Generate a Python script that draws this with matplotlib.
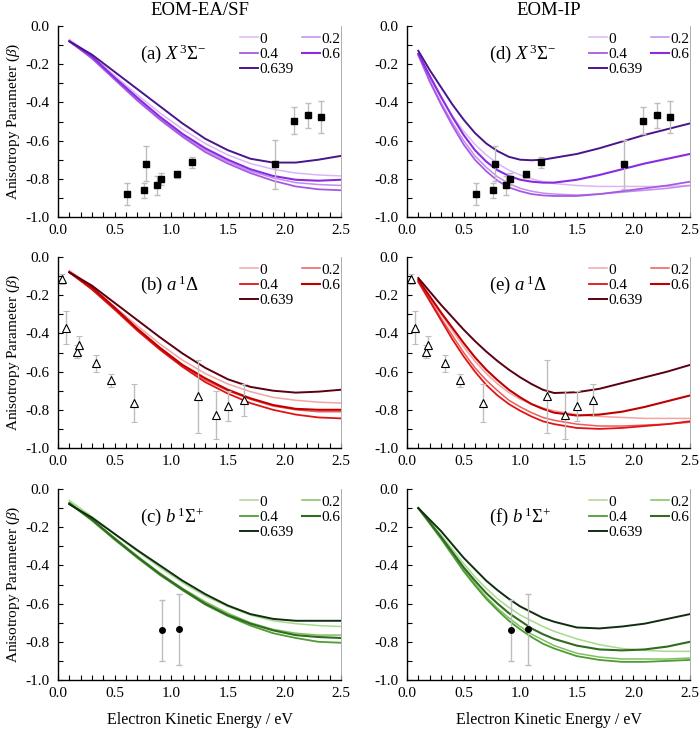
import matplotlib
matplotlib.use("Agg")
import matplotlib.pyplot as plt
from matplotlib.ticker import MultipleLocator, FormatStrFormatter

plt.rcParams['font.family'] = ['Liberation Serif', 'DejaVu Serif']
plt.rcParams['mathtext.fontset'] = 'custom'
plt.rcParams['mathtext.rm'] = 'Liberation Serif'
plt.rcParams['mathtext.it'] = 'Liberation Serif:italic'
plt.rcParams['mathtext.bf'] = 'Liberation Serif:bold'
plt.rcParams['axes.unicode_minus'] = False

# ---------------- data ----------------
mix_labels = ["0", "0.2", "0.4", "0.6", "0.639"]

# EOM-EA/SF curves sampled on ke
ke = [0.1, 0.3, 0.5, 0.7, 0.9, 1.1, 1.3, 1.5, 1.7, 1.9, 2.1, 2.3, 2.5]

# (a) X state, EOM-EA/SF
a_0     = [-0.07, -0.155, -0.26, -0.36, -0.455, -0.54, -0.615, -0.675, -0.72, -0.75, -0.77, -0.78, -0.785]
a_02    = [-0.08, -0.165, -0.275, -0.385, -0.485, -0.575, -0.65, -0.71, -0.76, -0.795, -0.82, -0.83, -0.835]
a_04    = [-0.08, -0.17, -0.28, -0.39, -0.49, -0.58, -0.66, -0.72, -0.77, -0.81, -0.84, -0.855, -0.86]
a_06    = [-0.08, -0.16, -0.27, -0.375, -0.475, -0.565, -0.64, -0.70, -0.75, -0.785, -0.805, -0.81, -0.805]
a_0639  = [-0.08, -0.15, -0.24, -0.33, -0.42, -0.51, -0.59, -0.65, -0.695, -0.715, -0.715, -0.70, -0.68]

# (b) a state, EOM-EA/SF
b_0     = [-0.07, -0.155, -0.26, -0.36, -0.455, -0.54, -0.61, -0.665, -0.705, -0.735, -0.75, -0.76, -0.765]
b_02    = [-0.08, -0.165, -0.27, -0.38, -0.48, -0.57, -0.645, -0.70, -0.745, -0.78, -0.80, -0.81, -0.81]
b_04    = [-0.08, -0.17, -0.275, -0.385, -0.485, -0.575, -0.655, -0.715, -0.765, -0.80, -0.825, -0.84, -0.845]
b_06    = [-0.08, -0.16, -0.265, -0.375, -0.475, -0.565, -0.635, -0.695, -0.74, -0.775, -0.795, -0.80, -0.80]
b_0639  = [-0.08, -0.15, -0.24, -0.33, -0.42, -0.505, -0.58, -0.64, -0.68, -0.70, -0.71, -0.705, -0.695]

# (c) b state, EOM-EA/SF
c_0     = [-0.06, -0.145, -0.235, -0.325, -0.41, -0.49, -0.56, -0.615, -0.66, -0.69, -0.705, -0.715, -0.72]
c_02    = [-0.07, -0.16, -0.255, -0.35, -0.44, -0.52, -0.59, -0.65, -0.70, -0.735, -0.755, -0.765, -0.765]
c_04    = [-0.075, -0.165, -0.265, -0.36, -0.45, -0.53, -0.605, -0.665, -0.715, -0.755, -0.78, -0.80, -0.805]
c_06    = [-0.075, -0.16, -0.26, -0.355, -0.445, -0.525, -0.60, -0.66, -0.705, -0.74, -0.765, -0.775, -0.78]
c_0639  = [-0.08, -0.15, -0.235, -0.32, -0.40, -0.48, -0.55, -0.61, -0.655, -0.68, -0.69, -0.69, -0.69]

# EOM-IP curves sampled on ke_ip
ke_ip = [0.1, 0.2, 0.3, 0.4, 0.5, 0.6, 0.7, 0.8, 0.9, 1.0, 1.1, 1.2, 1.3, 1.5, 1.7, 1.9, 2.1, 2.3, 2.5]

# (d) X state, EOM-IP
d_0     = [-0.15, -0.27, -0.375, -0.47, -0.55, -0.62, -0.675, -0.72, -0.755, -0.78, -0.80, -0.815, -0.825, -0.835, -0.84, -0.84, -0.84, -0.84, -0.835]
d_02    = [-0.155, -0.285, -0.40, -0.505, -0.60, -0.68, -0.74, -0.79, -0.825, -0.85, -0.865, -0.875, -0.88, -0.885, -0.88, -0.87, -0.86, -0.85, -0.835]
d_04    = [-0.15, -0.29, -0.41, -0.52, -0.62, -0.70, -0.76, -0.81, -0.845, -0.865, -0.88, -0.887, -0.89, -0.89, -0.88, -0.865, -0.85, -0.835, -0.815]
d_06    = [-0.145, -0.26, -0.37, -0.475, -0.57, -0.65, -0.71, -0.755, -0.785, -0.805, -0.815, -0.82, -0.82, -0.805, -0.78, -0.75, -0.72, -0.695, -0.67]
d_0639  = [-0.13, -0.23, -0.32, -0.41, -0.49, -0.56, -0.615, -0.655, -0.685, -0.70, -0.703, -0.70, -0.69, -0.67, -0.64, -0.605, -0.57, -0.54, -0.51]

# (e) a state, EOM-IP
e_0     = [-0.12, -0.21, -0.30, -0.385, -0.47, -0.545, -0.61, -0.665, -0.71, -0.745, -0.77, -0.79, -0.805, -0.825, -0.835, -0.84, -0.845, -0.845, -0.845]
e_02    = [-0.125, -0.22, -0.32, -0.41, -0.50, -0.58, -0.645, -0.70, -0.75, -0.785, -0.815, -0.84, -0.855, -0.875, -0.885, -0.885, -0.88, -0.875, -0.865]
e_04    = [-0.13, -0.23, -0.33, -0.43, -0.52, -0.60, -0.67, -0.725, -0.77, -0.805, -0.835, -0.86, -0.875, -0.895, -0.90, -0.895, -0.885, -0.875, -0.86]
e_06    = [-0.12, -0.205, -0.29, -0.37, -0.45, -0.525, -0.59, -0.645, -0.695, -0.735, -0.77, -0.795, -0.815, -0.83, -0.825, -0.81, -0.785, -0.755, -0.725]
e_0639  = [-0.11, -0.18, -0.25, -0.315, -0.38, -0.44, -0.495, -0.545, -0.59, -0.63, -0.665, -0.695, -0.712, -0.708, -0.69, -0.66, -0.63, -0.60, -0.565]

# (f) b state, EOM-IP
f_0     = [-0.10, -0.17, -0.24, -0.315, -0.39, -0.46, -0.52, -0.575, -0.62, -0.66, -0.69, -0.72, -0.745, -0.785, -0.815, -0.835, -0.845, -0.85, -0.85]
f_02    = [-0.10, -0.178, -0.255, -0.34, -0.42, -0.495, -0.565, -0.625, -0.675, -0.72, -0.76, -0.79, -0.82, -0.86, -0.88, -0.89, -0.89, -0.89, -0.885]
f_04    = [-0.10, -0.18, -0.26, -0.345, -0.43, -0.505, -0.575, -0.635, -0.69, -0.735, -0.775, -0.81, -0.835, -0.875, -0.895, -0.905, -0.905, -0.90, -0.895]
f_06    = [-0.10, -0.175, -0.25, -0.33, -0.41, -0.48, -0.545, -0.60, -0.65, -0.69, -0.73, -0.76, -0.785, -0.82, -0.84, -0.845, -0.84, -0.825, -0.80]
f_0639  = [-0.10, -0.16, -0.22, -0.29, -0.36, -0.42, -0.48, -0.53, -0.575, -0.615, -0.645, -0.675, -0.695, -0.725, -0.73, -0.72, -0.705, -0.68, -0.655]

# experimental points
X_eke  = [0.612, 0.757, 0.774, 0.877, 0.913, 1.054, 1.187, 1.92, 2.088, 2.211, 2.326]
X_beta = [-0.880, -0.861, -0.720, -0.833, -0.800, -0.777, -0.713, -0.723, -0.495, -0.467, -0.475]
X_err  = [0.056, 0.040, 0.093, 0.050, 0.030, 0.020, 0.028, 0.128, 0.072, 0.065, 0.084]

a_eke  = [0.032, 0.071, 0.168, 0.188, 0.336, 0.468, 0.671, 1.234, 1.393, 1.499, 1.640]
a_beta = [-0.114, -0.371, -0.495, -0.462, -0.557, -0.646, -0.763, -0.730, -0.826, -0.781, -0.748]
a_err  = [0.026, 0.087, 0.032, 0.050, 0.044, 0.036, 0.100, 0.190, 0.127, 0.080, 0.085]

b_eke  = [0.922, 1.066]
b_beta = [-0.739, -0.734]
b_err  = [0.160, 0.185]

purple = ['#dcb6f4', '#c48cee', '#a65ae4', '#8a2be2', '#48158a']
red    = ['#f3a5a5', '#ee5a5a', '#e01414', '#c00000', '#5a0012']
green  = ['#a9d98e', '#7dc15c', '#4f9c33', '#2f6b20', '#0f2e10']

panels = [
    (0, 0, ke,    [a_0, a_02, a_04, a_06, a_0639], purple, r"(a) $X\,^3\Sigma^{-}$", 'X'),
    (1, 0, ke,    [b_0, b_02, b_04, b_06, b_0639], red,    r"(b) $a\,^1\Delta$", 'a'),
    (2, 0, ke,    [c_0, c_02, c_04, c_06, c_0639], green,  r"(c) $b\,^1\Sigma^{+}$", 'b'),
    (0, 1, ke_ip, [d_0, d_02, d_04, d_06, d_0639], purple, r"(d) $X\,^3\Sigma^{-}$", 'X'),
    (1, 1, ke_ip, [e_0, e_02, e_04, e_06, e_0639], red,    r"(e) $a\,^1\Delta$", 'a'),
    (2, 1, ke_ip, [f_0, f_02, f_04, f_06, f_0639], green,  r"(f) $b\,^1\Sigma^{+}$", 'b'),
]

W, H = 700, 731
fig = plt.figure(figsize=(W / 100, H / 100), dpi=100)

lefts = [58, 407]
tops = [26, 257, 489]
aw, ah = 283, 191

widths = [1.1, 1.1, 1.3, 1.5, 1.4]

for row, col, xs, curves, cols, label, exp in panels:
    l = lefts[col] / W
    b = 1 - (tops[row] + ah) / H
    ax = fig.add_axes([l, b, aw / W, ah / H])
    handles = []
    for ys, c, lw, lab in zip(curves, cols, widths, mix_labels):
        h, = ax.plot(xs, ys, color=c, lw=lw, label=lab, zorder=3,
                     solid_joinstyle='round')
        handles.append(h)
    ekw = dict(ecolor='#bdbdbd', elinewidth=1.0, capsize=2.5, capthick=1.0, zorder=4)
    if exp == 'X':
        ax.errorbar(X_eke, X_beta, yerr=X_err, fmt='s', color='black', ms=4.6, **ekw)
    elif exp == 'a':
        ax.errorbar(a_eke, a_beta, yerr=a_err, fmt='^', mfc='white', mec='black', mew=0.8,
                    ms=5.8, **ekw)
    else:
        ax.errorbar(b_eke, b_beta, yerr=b_err, fmt='o', color='black', ms=4.0, **ekw)

    ax.set_xlim(0, 2.5)
    ax.set_ylim(-1.0, 0.0)
    ax.xaxis.set_major_locator(MultipleLocator(0.5))
    ax.xaxis.set_minor_locator(MultipleLocator(0.1))
    ax.yaxis.set_major_locator(MultipleLocator(0.2))
    ax.yaxis.set_minor_locator(MultipleLocator(0.1))
    ax.xaxis.set_major_formatter(FormatStrFormatter('%.1f'))
    ax.yaxis.set_major_formatter(FormatStrFormatter('%.1f'))
    ax.tick_params(which='both', direction='in', length=3.5, width=0.8, labelsize=11)
    ax.tick_params(axis='x', which='both', pad=5)
    ax.tick_params(axis='y', which='both', pad=6)
    ax.spines['top'].set_visible(False)
    ax.spines['right'].set_color('#a0a0a0')
    ax.spines['right'].set_linewidth(0.6)
    ax.spines['left'].set_linewidth(1.0)
    ax.spines['bottom'].set_linewidth(1.0)

    ax.text(0.29, 0.855, label, transform=ax.transAxes, fontsize=13.5, va='center', ha='left')

    order = [0, 2, 4, 1, 3]
    ax.legend([handles[i] for i in order], [mix_labels[i] for i in order],
              ncol=2, loc='upper right', bbox_to_anchor=(1.02, 1.0), frameon=False,
              fontsize=11, handlelength=1.2, handletextpad=0.1, columnspacing=0.5,
              labelspacing=0.1, borderaxespad=0.0)

    if col == 0:
        ax.set_ylabel(r"Anisotropy Parameter ($\beta$)", fontsize=11)
        ax.yaxis.set_label_coords(-0.128, 0.5)
    if row == 2:
        ax.set_xlabel("Electron Kinetic Energy / eV", fontsize=11.5, labelpad=9)
    if row == 0:
        ax.set_title("EOM-EA/SF" if col == 0 else "EOM-IP", fontsize=13.5, pad=8)

fig.savefig("out.png", dpi=100)
